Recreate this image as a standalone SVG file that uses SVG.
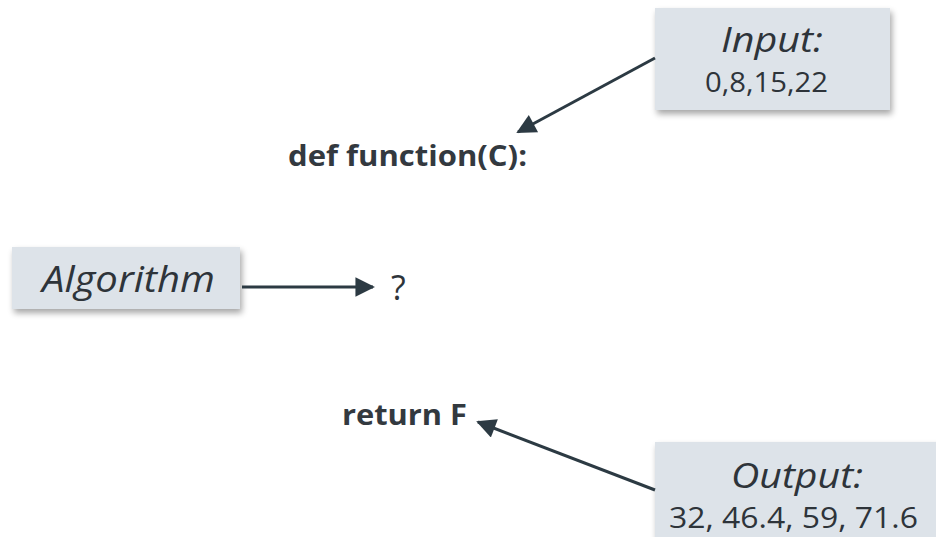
<svg xmlns="http://www.w3.org/2000/svg" width="936" height="537" viewBox="0 0 936 537">
  <defs>
    <filter id="shadow" x="-10%" y="-10%" width="125%" height="140%">
      <feGaussianBlur in="SourceAlpha" stdDeviation="3"/>
      <feOffset dx="2" dy="4"/>
      <feComponentTransfer><feFuncA type="linear" slope="0.35"/></feComponentTransfer>
      <feMerge><feMergeNode/><feMergeNode in="SourceGraphic"/></feMerge>
    </filter>
    <marker id="head" viewBox="0 0 10 10" refX="9" refY="5" markerWidth="7" markerHeight="6.5" orient="auto" markerUnits="strokeWidth">
      <path d="M0,0 L10,5 L0,10 z" fill="#2c3a43"/>
    </marker>
  </defs>
  <style>
    .box { fill: #dde3e9; filter: url(#shadow); }
    .lbl { font-family: "Open Sans", "Liberation Sans", sans-serif; fill: #2e343a; font-weight: normal; }
    .it { font-style: italic; }
    .code { font-family: "Open Sans", "Liberation Sans", sans-serif; font-weight: bold; fill: #33393f; }
    .conn { stroke: #2c3a43; stroke-width: 3; fill: none; marker-end: url(#head); }
  </style>
  <rect width="936" height="537" fill="#ffffff"/>

  <g id="input">
    <rect class="box" x="655" y="8" width="235" height="102"/>
    <text class="lbl it" x="721" y="52" font-size="34" textLength="102" lengthAdjust="spacingAndGlyphs">Input:</text>
    <text class="lbl" x="705" y="92" font-size="27" textLength="123" lengthAdjust="spacingAndGlyphs">0,8,15,22</text>
  </g>

  <g id="def">
    <text class="code" x="288" y="166" font-size="29" textLength="239" lengthAdjust="spacingAndGlyphs">def function(C):</text>
  </g>

  <g id="algorithm">
    <rect class="box" x="12" y="247" width="228" height="62"/>
    <text class="lbl it" x="42" y="292" font-size="37" textLength="173" lengthAdjust="spacingAndGlyphs">Algorithm</text>
  </g>

  <g id="unknown">
    <text class="lbl" x="391" y="300" font-size="34">?</text>
  </g>

  <g id="return">
    <text class="code" x="342" y="425" font-size="28" textLength="125" lengthAdjust="spacingAndGlyphs">return F</text>
  </g>

  <g id="output">
    <rect class="box" x="655" y="442" width="290" height="110"/>
    <text class="lbl it" x="731" y="488" font-size="35" textLength="132" lengthAdjust="spacingAndGlyphs">Output:</text>
    <text class="lbl" x="669" y="528" font-size="29" textLength="249" lengthAdjust="spacingAndGlyphs">32, 46.4, 59, 71.6</text>
  </g>

  <g id="connectors">
    <line class="conn" x1="655" y1="58" x2="518" y2="132"/>
    <line class="conn" x1="242" y1="287" x2="373" y2="287"/>
    <line class="conn" x1="655" y1="490" x2="478" y2="422"/>
  </g>
</svg>
